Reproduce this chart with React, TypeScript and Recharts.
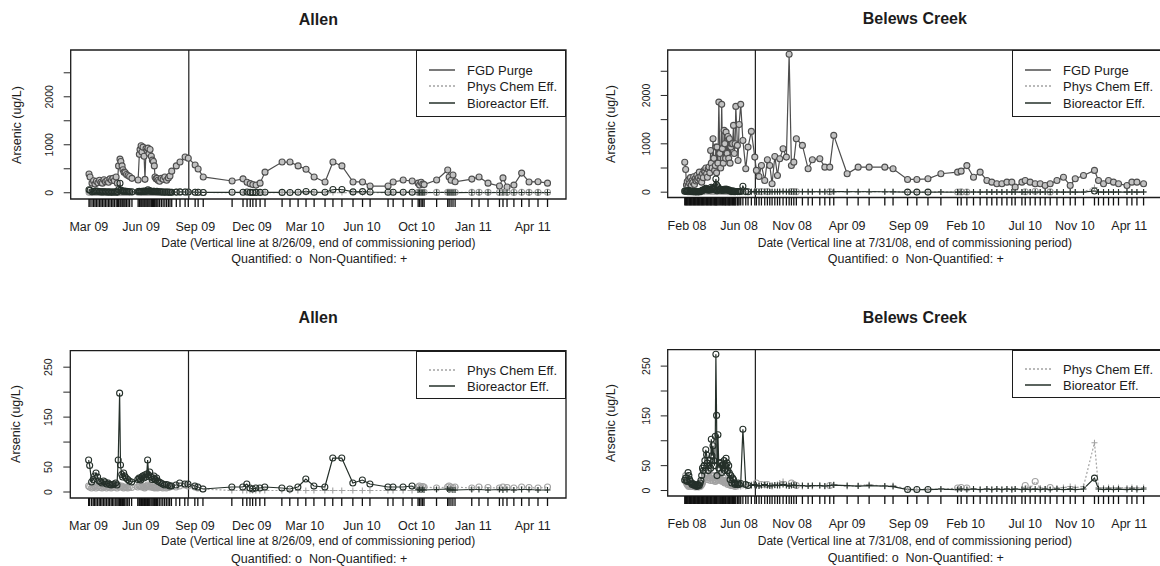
import { ComposedChart, Line, XAxis, YAxis, ReferenceLine, ReferenceArea } from 'recharts'

// x values are months counted from Jan 1 2008 (Feb 08 = 1)

const allenDates = [
  14.14, 14.2, 14.31, 14.4, 14.48, 14.56, 14.65, 14.74, 14.82, 14.9,
  14.99, 15.07, 15.16, 15.25, 15.33, 15.42, 15.5, 15.58, 15.68, 15.75,
  15.82, 15.9, 15.95, 16.02, 16.07, 16.13, 16.19, 16.27, 16.36, 16.45,
  16.58, 16.93, 17.0, 17.04, 17.1, 17.15, 17.21, 17.27, 17.32, 17.38,
  17.44, 17.49, 17.55, 17.61, 17.68, 17.74, 17.8, 17.85, 17.89, 17.95,
  18.0, 18.06, 18.15, 18.25, 18.35, 18.45, 18.55, 18.65, 18.74, 18.84,
  19.1, 19.31, 19.6, 19.78, 20.17, 20.34, 20.63, 22.27, 22.89, 23.12,
  23.3, 23.45, 23.63, 23.86, 24.14, 25.11, 25.56, 26.02, 26.47, 26.93,
  27.55, 28.0, 28.51, 29.14, 29.68, 30.11, 31.13, 31.42, 31.99, 32.5,
  32.84, 32.92, 33.01, 33.1, 33.18, 33.89, 34.52, 34.6, 34.71, 34.82,
  34.94, 35.89, 36.3, 36.81, 37.46, 37.66, 37.89, 38.28, 38.72, 39.14,
  39.65, 40.19,
]

const allenFgd = [
  390, 330, 200, 250, 180, 240, 210, 260, 220, 200,
  270, 230, 250, 220, 290, 260, 300, 250, 330, 200,
  560, 700, 650, 560, 480, 430, 420, 380, 360, 340,
  300, 265, 800, 900, 980, 850, 950, 760, 280, 920,
  880, 930, 820, 900, 760, 680, 650, 560, 330, 290,
  300, 260, 240, 300, 280, 330, 260, 310, 350, 450,
  560, 640, 745, 720, 580, 495, 330, 245, 290, 220,
  190, 170, 160, 200, 430, 640, 640, 560, 490, 330,
  225, 640, 560, 225, 225, 140, 140, 225, 265, 245,
  200, 160, 220, 180, 170, 265, 475, 330, 260, 370,
  230, 285, 330, 200, 140, 310, 120, 160, 410, 225,
  230, 200,
]

const allenPhys = [
  12, 10, 8, 10, 12, 8, 10, 12, 9, 8,
  10, 12, 8, 10, 9, 8, 10, 12, 10, 8,
  14, 12, 10, 12, 10, 8, 10, 9, 8, 10,
  9, 10, 12, 14, 12, 10, 12, 10, 8, 10,
  12, 14, 12, 10, 12, 10, 9, 10, 8, 10,
  9, 8, 10, 9, 8, 10, 8, 9, 10, 12,
  10, 12, 14, 12, 10, 8, 6, 3, 3, 3,
  3, 3, 3, 3, 3, 3, 3, 3, 3, 3,
  3, 3, 3, 3, 3, 3, 3, 3, 3, 3,
  10, 12, 10, 11, 10, 8, 10, 12, 10, 9,
  10, 8, 10, 9, 8, 10, 9, 8, 10, 9,
  8, 10,
]

const allenBio = [
  64, 53, 20, 25, 32, 38, 30, 22, 20, 18,
  22, 20, 16, 18, 15, 14, 15, 16, 18, 14,
  64, 198, 54, 35, 30, 38, 32, 28, 25, 22,
  20, 25, 28, 26, 24, 30, 32, 28, 34, 30,
  36, 64, 34, 40, 30, 25, 28, 32, 26, 24,
  28, 22, 20, 18, 16, 14, 15, 14, 12, 12,
  14, 18, 16, 16, 12, 10, 6, 10, 10, 16,
  8, 6, 8, 8, 10, 8, 6, 10, 26, 12,
  10, 68, 68, 18, 24, 16, 10, 10, 10, 12,
  4, 5, 4, 5, 4, 5, 6, 4, 5, 4,
  4, 5, 5, 4, 5, 4, 5, 4, 5, 5,
  4, 4,
]

// o = quantified, + = non-quantified
const allenPhysMarks = 'o'.repeat(67) + '+'.repeat(23) + 'o'.repeat(22)
const allenBioMarks = 'o'.repeat(90) + '+'.repeat(22)

const belewsDates = [
  0.8, 0.88, 0.95, 1.02, 1.09, 1.16, 1.23, 1.3, 1.37, 1.44,
  1.51, 1.58, 1.65, 1.72, 1.79, 1.86, 1.93, 2.0, 2.07, 2.14,
  2.21, 2.28, 2.35, 2.42, 2.49, 2.56, 2.64, 2.71, 2.78, 2.85,
  2.92, 2.99, 3.06, 3.12, 3.19, 3.27, 3.34, 3.41, 3.47, 3.52,
  3.58, 3.62, 3.7, 3.78, 3.86, 3.94, 4.03, 4.09, 4.17, 4.24,
  4.3, 4.37, 4.41, 4.5, 4.57, 4.64, 4.7, 4.76, 4.83, 4.91,
  4.98, 5.06, 5.13, 5.2, 5.26, 5.4, 5.46, 5.55, 5.69, 5.88,
  6.13, 6.33, 6.62, 6.92, 7.06, 7.29, 7.5, 7.79, 8.02, 8.23,
  8.43, 8.67, 8.9, 9.1, 9.39, 9.68, 9.92, 10.12, 10.33, 10.55,
  11.08, 11.58, 11.95, 12.6, 13.04, 13.47, 13.82, 14.99, 15.95, 16.91,
  18.28, 19.0, 20.27, 21.08, 22.05, 23.18, 24.64, 24.95, 25.45, 26.03,
  26.61, 27.2, 27.63, 28.07, 28.51, 28.95, 29.38, 29.67, 30.26, 30.55,
  30.98, 31.42, 31.86, 32.29, 32.73, 33.32, 33.89, 34.48, 34.92, 35.64,
  36.6, 36.95, 37.39, 37.83, 38.26, 38.7, 39.44, 39.87, 40.31, 40.89,
]

const belewsFgd = [
  620, 470, 150, 220, 120, 260, 180, 300, 150, 240,
  200, 320, 160, 280, 230, 350, 250, 300, 414, 260,
  330, 207, 380, 300, 450, 420, 500, 380, 310, 480,
  520, 400, 863, 600, 500, 1105, 700, 450, 550, 932,
  400, 932, 600, 1863, 800, 500, 1816, 900, 600, 1277,
  1000, 700, 1242, 800, 1150, 700, 1105, 600, 932, 1000,
  1000, 1381, 800, 1000, 1774, 967, 656, 1400, 1816, 1070,
  484, 932, 1257, 725, 450, 325, 553, 242, 670, 553,
  173, 739, 346, 691, 898, 725, 2851, 553, 621, 1105,
  967, 484, 670, 691, 518, 518, 1174, 381, 518, 518,
  518, 484, 263, 263, 277, 381, 414, 435, 550, 310,
  414, 242, 207, 173, 173, 207, 207, 104, 207, 242,
  207, 173, 173, 139, 173, 242, 310, 139, 277, 346,
  450, 242, 173, 242, 207, 173, 139, 207, 207, 173,
]

const belewsPhys = [
  20, 30, 15, 12, 10, 8, 10, 12, 8, 10,
  9, 8, 10, 7, 8, 10, 8, 7, 9, 8,
  10, 12, 15, 20, 25, 30, 35, 28, 22, 30,
  40, 25, 20, 30, 25, 20, 30, 22, 18, 25,
  20, 28, 22, 30, 25, 20, 22, 18, 25, 20,
  15, 18, 20, 15, 12, 15, 18, 12, 10, 12,
  10, 12, 10, 8, 8, 10, 8, 10, 8, 10,
  8, 10, 12, 10, 15, 10, 12, 10, 12, 10,
  8, 10, 12, 15, 18, 12, 10, 15, 12, 10,
  8, 10, 8, 10, 8, 10, 12, 8, 10, 12,
  8, 10, 3, 2, 3, 2, 5, 6, 5, 3,
  2, 3, 2, 3, 2, 3, 2, 3, 2, 10,
  4, 18, 5, 3, 6, 5, 6, 8, 6, 8,
  96, 6, 5, 6, 5, 6, 5, 6, 5, 6,
]

const belewsBio = [
  21, 25, 20, 18, 36, 30, 22, 18, 15, 12,
  14, 12, 10, 12, 10, 8, 10, 12, 10, 15,
  20, 30, 45, 40, 50, 60, 82, 72, 55, 40,
  50, 60, 45, 103, 70, 90, 60, 50, 109, 274,
  151, 30, 112, 45, 55, 56, 36, 50, 45, 60,
  40, 50, 65, 55, 40, 50, 35, 22, 30, 15,
  25, 22, 15, 12, 14, 12, 15, 12, 14, 123,
  12, 10, 10, 12, 10, 9, 10, 12, 10, 9,
  10, 11, 10, 10, 12, 10, 9, 10, 11, 10,
  10, 9, 10, 10, 9, 10, 11, 10, 9, 10,
  9, 8, 2, 2, 2, 3, 2, 3, 2, 3,
  2, 3, 2, 3, 2, 3, 2, 3, 2, 3,
  2, 3, 2, 3, 2, 3, 2, 3, 2, 3,
  25, 3, 2, 3, 2, 3, 2, 3, 2, 3,
]

const belewsPhysMarks =
  'o'.repeat(64) +
  '++++++++++' + 'o+o+o+++++' + '+++ooo++++' + '+o++++++' +
  '++++ooo+++' + '+++++++o+o' + '++o+++++++' + '++++++++'
const belewsBioMarks =
  'o'.repeat(72) + '+'.repeat(30) + 'ooo' + '+'.repeat(25) + 'o' + '+'.repeat(9)

const allenTicks = [14.13, 17.1, 20.18, 23.4, 26.41, 29.65, 32.75, 35.98, 39.35]
const allenTickLabels = ['Mar 09', 'Jun 09', 'Sep 09', 'Dec 09', 'Mar 10', 'Jun 10', 'Oct 10', 'Jan 11', 'Apr 11']
const belewsTicks = [1, 5.55, 10.18, 14.99, 20.36, 25.34, 30.55, 34.88, 39.64]
const belewsTickLabels = ['Feb 08', 'Jun 08', 'Nov 08', 'Apr 09', 'Sep 09', 'Feb 10', 'Jul 10', 'Nov 10', 'Apr 11']

const bigTicks = [0, 500, 1000, 1500, 2000, 2500]
const bigLabels = [0, 1000, 2000]
const smallTicks = [0, 50, 100, 150, 200, 250]
const smallLabels = [0, 50, 150, 250]

const FONT = '"Liberation Sans", Arial, Helvetica, sans-serif'
const INK = '#1c1c1c'

const FGD = { color: '#4e4e4e', fill: '#c2c2c2', width: 1.2 }
const PHYS = { color: '#a2a2a2', fill: 'none', width: 1.2, dash: '2 2' }
const BIO = { color: '#25302a', fill: 'none', width: 1.2 }

type Row = { x: number; v: number; q: string }
type Series = { name: string; rows: Row[]; color: string; fill: string; width: number; dash?: string }

const rowsOf = (dates: number[], vals: number[], marks?: string): Row[] =>
  dates.map((x, i) => ({ x, v: vals[i], q: marks ? marks[i] : 'o' }))

const makeDot = (color: string, fill: string) => (props: any) => {
  const { cx, cy, payload, index } = props
  if (cx == null || cy == null) return <g key={`e-${index}`} />
  if (payload.q === '+') {
    return (
      <path key={`p-${index}`} d={`M${cx - 3},${cy}h6M${cx},${cy - 3}v6`} stroke={color} strokeWidth={1.1} />
    )
  }
  return <circle key={`c-${index}`} cx={cx} cy={cy} r={3} stroke={color} strokeWidth={1.1} fill={fill} />
}

function Txt({ x, y, size, bold, rotate, children }: any) {
  return (
    <div
      style={{
        position: 'absolute',
        left: x,
        top: y,
        transform: `translate(-50%, -50%)${rotate ? ' rotate(-90deg)' : ''}`,
        fontSize: size,
        fontWeight: bold ? 700 : 400,
        whiteSpace: 'nowrap',
        lineHeight: 1,
        color: INK,
      }}
    >
      {children}
    </div>
  )
}

function LegendBox({ left, top, items }: { left: number; top: number; items: { name: string; color: string; dash?: string }[] }) {
  const h = items.length === 3 ? 67 : 48
  const first = items.length === 3 ? 19 : 18.3
  const step = items.length === 3 ? 16.3 : 15.7
  return (
    <div style={{ position: 'absolute', left, top, width: 150, height: h, border: `1px solid ${INK}`, boxSizing: 'border-box', background: 'transparent' }}>
      {items.map((it, i) => (
        <div key={it.name}>
          <svg width={26} height={4} style={{ position: 'absolute', left: 12, top: first + i * step - 2 }}>
            <line x1={0} y1={2} x2={26} y2={2} stroke={it.color} strokeWidth={1.5} strokeDasharray={it.dash} />
          </svg>
          <div style={{ position: 'absolute', left: 50, top: first + i * step, transform: 'translateY(-50%)', fontSize: 13, lineHeight: 1, whiteSpace: 'nowrap', color: INK }}>
            {it.name}
          </div>
        </div>
      ))}
    </div>
  )
}

type PanelProps = {
  left: number
  top: number
  width: number
  height: number
  plot: { l: number; t: number; r: number; b: number }
  title: string
  titleY: number
  xTitle: string
  xTitleY: number
  quantY: number
  yLabelX: number
  xDomain: [number, number]
  xTicks: number[]
  xTickLabels: string[]
  rug: number[]
  vline: number
  yDomain: [number, number]
  yTicks: number[]
  yLabels: number[]
  series: Series[]
  legend: { name: string; color: string; dash?: string }[]
}

function Panel(p: PanelProps) {
  const { l, t, r, b } = p.plot
  const midX = (l + r) / 2
  const midY = (t + b) / 2
  const rugH = 8
  const labH = 30
  return (
    <div style={{ position: 'absolute', left: p.left, top: p.top, width: p.width, height: p.height }}>
      <ComposedChart
        width={p.width}
        height={p.height}
        margin={{ top: t, right: p.width - r, bottom: p.height - b - rugH - labH, left: 0 }}
      >
        <XAxis
          xAxisId={0}
          dataKey="x"
          type="number"
          domain={p.xDomain}
          allowDataOverflow
          ticks={p.rug}
          interval={0}
          tick={() => <g />}
          tickSize={rugH}
          tickMargin={0}
          height={rugH}
          axisLine={false}
          tickLine={{ stroke: '#111', strokeWidth: 1.3 }}
        />
        <XAxis
          xAxisId="lab"
          dataKey="x"
          type="number"
          domain={p.xDomain}
          allowDataOverflow
          ticks={p.xTicks}
          interval={0}
          height={labH}
          axisLine={false}
          tickLine={false}
          tickSize={0}
          tickMargin={0}
          tick={(tp: any) => (
            <text x={tp.x} y={tp.y + 20} textAnchor="middle" dominantBaseline="central" fontSize={12.5} fill={INK} fontFamily={FONT}>
              {p.xTickLabels[p.xTicks.indexOf(tp.payload.value)]}
            </text>
          )}
        />
        <YAxis
          type="number"
          domain={p.yDomain}
          allowDataOverflow
          ticks={p.yTicks}
          interval={0}
          width={l}
          axisLine={false}
          tickSize={7}
          tickMargin={2}
          tickLine={{ stroke: '#262626', strokeWidth: 1 }}
          tick={(tp: any) =>
            p.yLabels.includes(tp.payload.value) ? (
              <text
                x={tp.x - 13}
                y={tp.y}
                transform={`rotate(-90 ${tp.x - 13} ${tp.y})`}
                textAnchor="middle"
                dominantBaseline="central"
                fontSize={10.5}
                fill={INK}
                fontFamily={FONT}
              >
                {tp.payload.value}
              </text>
            ) : (
              <g />
            )
          }
        />
        <ReferenceArea
          xAxisId={0}
          x1={p.xDomain[0]}
          x2={p.xDomain[1]}
          y1={p.yDomain[0]}
          y2={p.yDomain[1]}
          fill="none"
          stroke={INK}
          strokeWidth={1.3}
          ifOverflow="visible"
        />
        <ReferenceLine xAxisId={0} x={p.vline} stroke={INK} strokeWidth={1.2} />
        {p.series.map((s) => (
          <Line
            key={s.name}
            xAxisId={0}
            data={s.rows}
            dataKey="v"
            type="linear"
            stroke={s.color}
            strokeWidth={s.width}
            strokeDasharray={s.dash}
            dot={makeDot(s.color, s.fill)}
            activeDot={false}
            isAnimationActive={false}
          />
        ))}
      </ComposedChart>
      <Txt x={midX} y={p.titleY} size={16} bold>{p.title}</Txt>
      <Txt x={p.yLabelX} y={midY} size={12.5} rotate>Arsenic (ug/L)</Txt>
      <Txt x={midX} y={p.xTitleY} size={12}>{p.xTitle}</Txt>
      <Txt x={midX + 1} y={p.quantY} size={12.5}>Quantified: o&nbsp; Non-Quantified: +</Txt>
      <LegendBox left={r - 150} top={t} items={p.legend} />
    </div>
  )
}

const allenRows = {
  fgd: rowsOf(allenDates, allenFgd),
  phys: rowsOf(allenDates, allenPhys, allenPhysMarks),
  bio: rowsOf(allenDates, allenBio, allenBioMarks),
}
const belewsRows = {
  fgd: rowsOf(belewsDates, belewsFgd),
  phys: rowsOf(belewsDates, belewsPhys, belewsPhysMarks),
  bio: rowsOf(belewsDates, belewsBio, belewsBioMarks),
}

const allenTitle = 'Date (Vertical line at 8/26/09, end of commissioning period)'
const belewsTitle = 'Date (Vertical line at 7/31/08, end of commissioning period)'

export default function App() {
  const allenX: [number, number] = [13.1, 41.24]
  const belewsX: [number, number] = [-0.69, 42.5]
  return (
    <div
      style={{
        position: 'fixed',
        left: 0,
        top: 0,
        width: 1160,
        height: 566,
        overflow: 'hidden',
        background: '#fff',
        fontFamily: FONT,
      }}
    >
      <Panel
        left={0}
        top={0}
        width={580}
        height={283}
        plot={{ l: 70.7, t: 50, r: 566, b: 199 }}
        title="Allen"
        titleY={20}
        xTitle={allenTitle}
        xTitleY={243.3}
        quantY={259.3}
        yLabelX={16.6}
        xDomain={allenX}
        xTicks={allenTicks}
        xTickLabels={allenTickLabels}
        rug={allenDates}
        vline={19.81}
        yDomain={[-130, 2975]}
        yTicks={bigTicks}
        yLabels={bigLabels}
        series={[
          { name: 'FGD Purge', rows: allenRows.fgd, ...FGD },
          { name: 'Phys Chem Eff.', rows: allenRows.phys, ...PHYS },
          { name: 'Bioreactor Eff.', rows: allenRows.bio, ...BIO },
        ]}
        legend={[
          { name: 'FGD Purge', color: FGD.color },
          { name: 'Phys Chem Eff.', color: PHYS.color, dash: PHYS.dash },
          { name: 'Bioreactor Eff.', color: BIO.color },
        ]}
      />
      <Panel
        left={580}
        top={0}
        width={600}
        height={283}
        plot={{ l: 87.7, t: 50, r: 582, b: 197.5 }}
        title="Belews Creek"
        titleY={19}
        xTitle={belewsTitle}
        xTitleY={242.7}
        quantY={259.3}
        yLabelX={31.4}
        xDomain={belewsX}
        xTicks={belewsTicks}
        xTickLabels={belewsTickLabels}
        rug={belewsDates}
        vline={6.97}
        yDomain={[-110, 2940]}
        yTicks={bigTicks}
        yLabels={bigLabels}
        series={[
          { name: 'FGD Purge', rows: belewsRows.fgd, ...FGD },
          { name: 'Phys Chem Eff.', rows: belewsRows.phys, ...PHYS },
          { name: 'Bioreactor Eff.', rows: belewsRows.bio, ...BIO },
        ]}
        legend={[
          { name: 'FGD Purge', color: FGD.color },
          { name: 'Phys Chem Eff.', color: PHYS.color, dash: PHYS.dash },
          { name: 'Bioreactor Eff.', color: BIO.color },
        ]}
      />
      <Panel
        left={0}
        top={283}
        width={580}
        height={283}
        plot={{ l: 70.3, t: 67.7, r: 566, b: 215 }}
        title="Allen"
        titleY={35}
        xTitle={allenTitle}
        xTitleY={258}
        quantY={276}
        yLabelX={15.5}
        xDomain={allenX}
        xTicks={allenTicks}
        xTickLabels={allenTickLabels}
        rug={allenDates}
        vline={19.81}
        yDomain={[-12, 283]}
        yTicks={smallTicks}
        yLabels={smallLabels}
        series={[
          { name: 'Phys Chem Eff.', rows: allenRows.phys, ...PHYS },
          { name: 'Bioreactor Eff.', rows: allenRows.bio, ...BIO },
        ]}
        legend={[
          { name: 'Phys Chem Eff.', color: PHYS.color, dash: PHYS.dash },
          { name: 'Bioreactor Eff.', color: BIO.color },
        ]}
      />
      <Panel
        left={580}
        top={283}
        width={600}
        height={283}
        plot={{ l: 87.7, t: 66.7, r: 582, b: 213 }}
        title="Belews Creek"
        titleY={35}
        xTitle={belewsTitle}
        xTitleY={258.3}
        quantY={275}
        yLabelX={31}
        xDomain={belewsX}
        xTicks={belewsTicks}
        xTickLabels={belewsTickLabels}
        rug={belewsDates}
        vline={6.97}
        yDomain={[-11, 283]}
        yTicks={smallTicks}
        yLabels={smallLabels}
        series={[
          { name: 'Phys Chem Eff.', rows: belewsRows.phys, ...PHYS },
          { name: 'Bioreator Eff.', rows: belewsRows.bio, ...BIO },
        ]}
        legend={[
          { name: 'Phys Chem Eff.', color: PHYS.color, dash: PHYS.dash },
          { name: 'Bioreator Eff.', color: BIO.color },
        ]}
      />
    </div>
  )
}
